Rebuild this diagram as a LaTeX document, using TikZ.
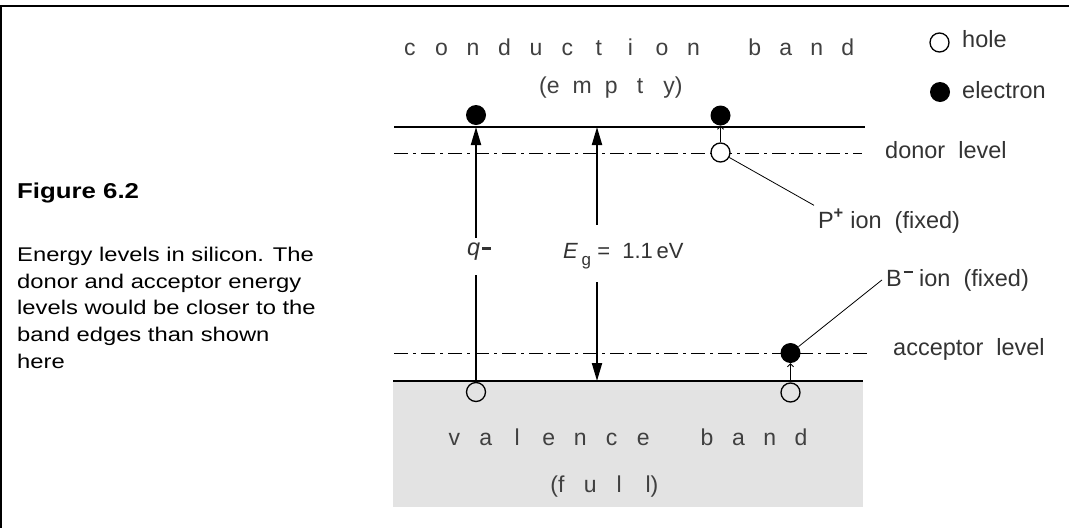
\documentclass[tikz,border=0pt]{standalone}
\usepackage{fontspec}
\setmainfont{Liberation Sans}
\newfontfamily\capfont{Liberation Sans}[FakeStretch=1.2]
\usepackage{tikz}
\usetikzlibrary{arrows.meta,positioning,calc}
\newcommand{\lblsize}{\fontsize{23.5}{28}\selectfont}
\newcommand{\supminus}[1]{\hspace{2pt}\rule[#1]{9pt}{2.2pt}}
\makeatletter
\newcommand{\spaced}[2]{\@tfor\spc@ch:=#2\do{\makebox[#1]{\spc@ch}}}
\makeatother

\begin{document}
\begin{tikzpicture}[x=1pt,y=-1pt,
  lbl/.style={font=\lblsize,text=black!80,inner sep=0pt,anchor=base west},
  bandtxt/.style={font=\fontsize{23}{28}\selectfont,text=black!75,inner sep=0pt,anchor=base west},
  elec/.style={circle,fill=black,minimum size=20pt,inner sep=0pt},
  hole/.style={circle,draw,line width=1.3pt,minimum size=19pt,inner sep=0pt},
  lvl/.style={line width=1pt,dash pattern=on 14pt off 5pt on 3pt off 5pt},
  gap/.style={-{Triangle[length=18pt,width=10pt]},line width=2pt},
  hop/.style={-{Straight Barb[length=3pt,width=6pt]},line width=0.8pt},
  callout/.style={line width=0.8pt}]
\useasboundingbox (0,0) rectangle (1069,528);
\coordinate (frTL) at (1,6); \coordinate (frTR) at (1069,6); \coordinate (frBL) at (1,528);
\draw[line width=1.2pt] (frTR) -- (frTL) -- (frBL);

\node[font=\capfont\fontsize{21.5}{26}\selectfont\bfseries,inner sep=0pt,anchor=base west] (fig) at (17,198) {Figure 6.2};
\node[font=\capfont\fontsize{19.8}{26.7}\selectfont,inner sep=0pt,anchor=north west,align=left] (cap) at (17,247)
  {Energy levels in silicon. The\\donor and acceptor energy\\levels would be closer to the\\band edges than shown\\here};

\coordinate (cbL) at (394,127); \coordinate (cbR) at (865,127);
\coordinate (dlL) at (394,153); \coordinate (dlR) at (862,153);
\coordinate (alL) at (394,353); \coordinate (alR) at (867,353);
\coordinate (vbL) at (393,381); \coordinate (vbR) at (863,381);
\fill[black!11] (vbL) rectangle (863,507);
\draw[line width=1.8pt] (cbL) -- (cbR);
\draw[lvl] (dlL) -- (dlR);
\draw[lvl] (alL) -- (alR);
\draw[line width=1.1pt] (vbL) -- (vbR);

\node[bandtxt] (cbtxt) at (394,55) {\spaced{31.5pt}{conduction}\hspace{30pt}\spaced{31pt}{band}};
\node[bandtxt] (cbsub) at (538.5,93) {\spaced{29pt}{{\llap{(}e}mpt{y\rlap{)}}}};
\node[bandtxt] (vbtxt) at (438.3,445) {\spaced{31.5pt}{valence}\hspace{32.5pt}\spaced{31.3pt}{band}};
\node[bandtxt] (vbsub) at (546.5,492) {\spaced{29pt}{{\llap{(}f}ul{l\rlap{)}}}};

\node[hole] (lhole) at (939.5,42.5) {};
\node[lbl] (lholetxt) at (962,47) {hole};
\node[elec] (lelec) at (940,92) {};
\node[lbl] (lelectxt) at (962,98) {electron};
\node[lbl] (dlbl) at (885,158) {donor\ \ level};
\node[lbl] (albl) at (893,355) {acceptor\ \ level};

\node[elec] (qelec) at (476,115) {};
\node[hole] (qhole) at (476,392) {};
\node[elec] (delec) at (720.5,115.5) {};
\node[hole,fill=white] (dhole) at (720.5,152.5) {};
\node[elec] (aelec) at (790.5,353) {};
\node[hole] (ahole) at (790.5,392.5) {};

\node[lbl,text height=17pt,text depth=20pt] (qlbl) at (467,255) {\textit{q}\supminus{5.5pt}};
\draw[line width=2pt] (qhole.north) -- (qhole |- qlbl.south);
\draw[gap] (qhole |- qlbl.north) -- (qhole |- cbL);

\coordinate (egx) at (597,381);
\node[lbl,font=\fontsize{22}{26}\selectfont,text height=33pt,text depth=24pt] (eglbl) at (563,258)
  {\textit{E}\,\raisebox{-7pt}{\fontsize{17}{17}\selectfont g} =\ \ 1.1\,eV};
\draw[gap] (egx |- eglbl.north) -- (egx |- cbL);
\draw[gap] (egx |- eglbl.south) -- (egx);

\draw[hop] (dhole) -- (delec);
\draw[hop] (ahole) -- (aelec);

\node[lbl,outer sep=4pt] (plbl) at (814,228) {P\textsuperscript{\bfseries +}\ ion\ \ (fixed)};
\node[lbl,outer sep=4pt] (blbl) at (882,286) {B\supminus{13pt}\ ion\ \ (fixed)};
\draw[callout] (dhole) -- (plbl.north west);
\draw[callout] (aelec) -- (blbl.west);
\end{tikzpicture}
\end{document}
